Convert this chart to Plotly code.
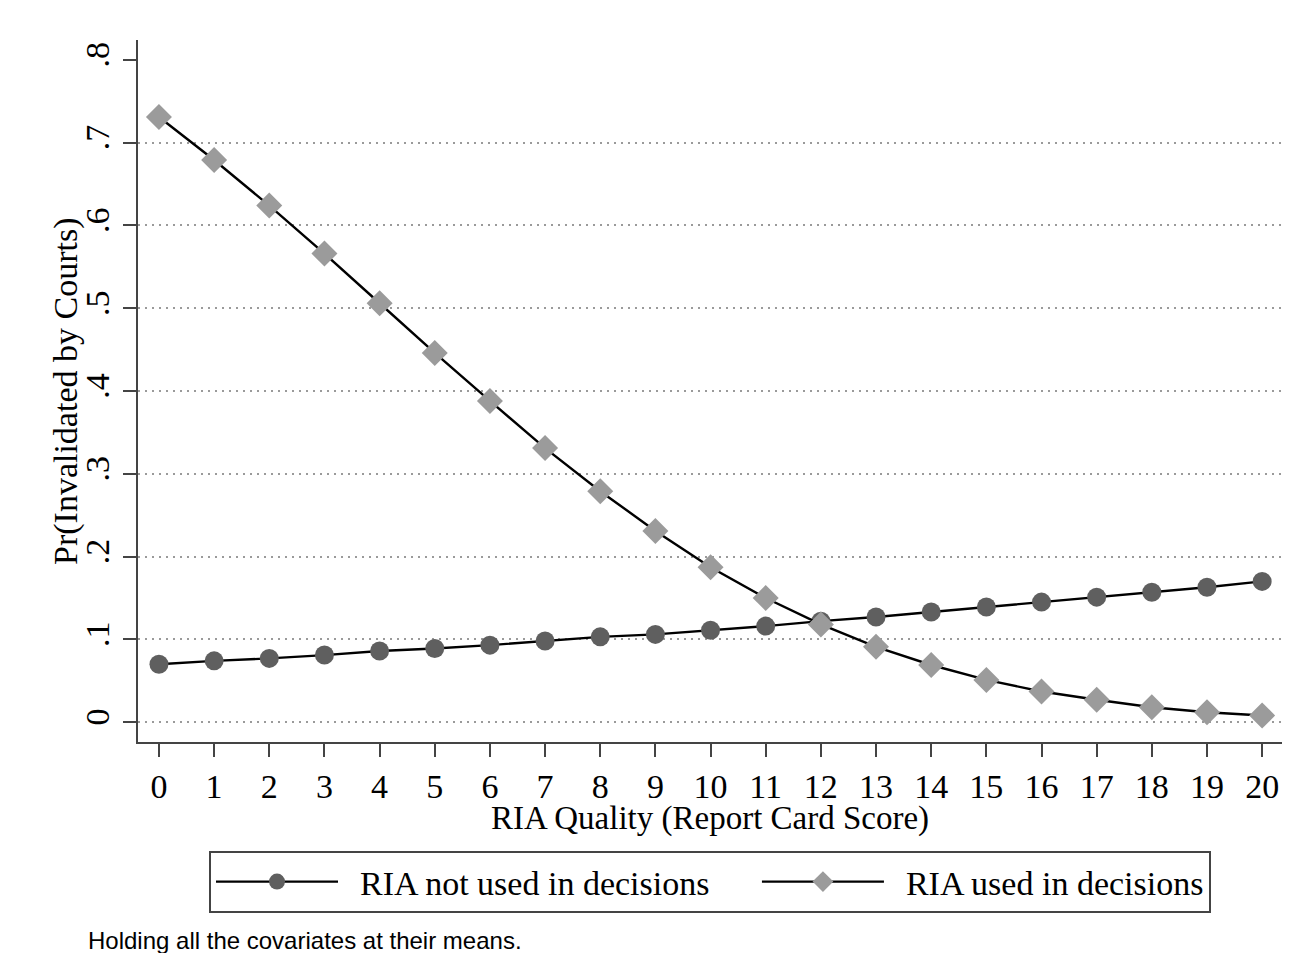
import plotly.graph_objects as go

x_scores = list(range(21))
not_used = [0.070, 0.074, 0.077, 0.081, 0.086, 0.089, 0.093, 0.098, 0.103, 0.106,
            0.111, 0.116, 0.122, 0.127, 0.133, 0.139, 0.145, 0.151, 0.157, 0.163, 0.170]
used = [0.731, 0.679, 0.624, 0.566, 0.506, 0.446, 0.388, 0.331, 0.279, 0.231,
        0.187, 0.150, 0.118, 0.091, 0.069, 0.051, 0.037, 0.027, 0.018, 0.012, 0.008]
y_ticks = [0, 0.1, 0.2, 0.3, 0.4, 0.5, 0.6, 0.7, 0.8]
y_tick_labels = ["0", ".1", ".2", ".3", ".4", ".5", ".6", ".7", ".8"]
grid_vals = [0, 0.1, 0.2, 0.3, 0.4, 0.5, 0.6, 0.7]

serif = "Liberation Serif, Times New Roman, serif"
FS = 34
NB = "\u00a0"
# page has an 8px body margin, so the figure is sized to fit the window
W, H = 1293, 945
ml, mr, mt, mb = 130, 19, 32, 211
pw, ph = W - ml - mr, H - mt - mb


def px_to_paper_x(px):
    return (px - 8 - ml) / pw


def px_to_paper_y(py):
    return (H - mb - (py - 8)) / ph


fig = go.Figure()
fig.add_trace(go.Scatter(
    x=x_scores, y=not_used, mode="lines+markers",
    name=NB * 2 + "RIA not used in decisions" + NB * 5,
    line=dict(color="black", width=2.4),
    marker=dict(symbol="circle", size=19, color="#5f5f5f"),
))
fig.add_trace(go.Scatter(
    x=x_scores, y=used, mode="lines+markers",
    name=NB * 2 + "RIA used in decisions",
    line=dict(color="black", width=2.4),
    marker=dict(symbol="diamond", size=20, color="#9b9b9b"),
))
fig.add_trace(go.Scatter(x=[None], y=[None], yaxis="y2", showlegend=False, hoverinfo="skip"))

fig.update_layout(
    width=W, height=H,
    margin=dict(l=ml, r=mr, t=mt, b=mb, autoexpand=False),
    paper_bgcolor="white", plot_bgcolor="white",
    font=dict(family=serif, size=FS, color="black"),
    xaxis=dict(
        range=[-0.38, 20.36], tickmode="array", tickvals=x_scores,
        ticktext=[str(v) for v in x_scores],
        showgrid=False, zeroline=False, showline=True, linecolor="#444444", linewidth=2,
        ticks="outside", ticklen=13, tickwidth=2, tickcolor="#444444",
        tickfont=dict(family=serif, size=FS),
    ),
    yaxis=dict(
        range=[-0.024, 0.824], tickmode="array", tickvals=y_ticks, ticktext=y_tick_labels,
        tickangle=-90, showgrid=False, zeroline=False, showline=True,
        linecolor="#444444", linewidth=2,
        ticks="outside", ticklen=13, tickwidth=2, tickcolor="#444444",
        tickfont=dict(family=serif, size=FS),
    ),
    yaxis2=dict(
        overlaying="y", matches="y", tickmode="array", tickvals=grid_vals,
        showticklabels=False, showgrid=True, gridcolor="#9a9a9a", gridwidth=1.5,
        griddash="2px,5px", zeroline=False, showline=False, ticks="",
    ),
    legend=dict(
        orientation="h", x=px_to_paper_x(209), xanchor="left",
        y=px_to_paper_y(851), yanchor="top",
        bordercolor="#444444", borderwidth=2, bgcolor="white",
        font=dict(family=serif, size=FS), itemwidth=122,
    ),
    showlegend=True,
    annotations=[
        dict(
            text="RIA Quality (Report Card Score)", xref="paper", yref="paper",
            x=px_to_paper_x(710), y=px_to_paper_y(818),
            xanchor="center", yanchor="middle", showarrow=False,
            font=dict(family=serif, size=33, color="black"),
        ),
        dict(
            text="Pr(Invalidated by Courts)", xref="paper", yref="paper",
            x=px_to_paper_x(66), y=px_to_paper_y(391), textangle=-90,
            xanchor="center", yanchor="middle", showarrow=False,
            font=dict(family=serif, size=FS, color="black"),
        ),
        dict(
            text="Holding all the covariates at their means.", xref="paper", yref="paper",
            x=px_to_paper_x(86), y=px_to_paper_y(925),
            xanchor="left", yanchor="top", showarrow=False,
            font=dict(family="Liberation Sans, Arial, sans-serif", size=24, color="black"),
        ),
    ],
)
try:
    fig.update_xaxes(ticklabelstandoff=-3, selector=dict(anchor="y"))
except Exception:
    pass

fig.write_html("out.html")
